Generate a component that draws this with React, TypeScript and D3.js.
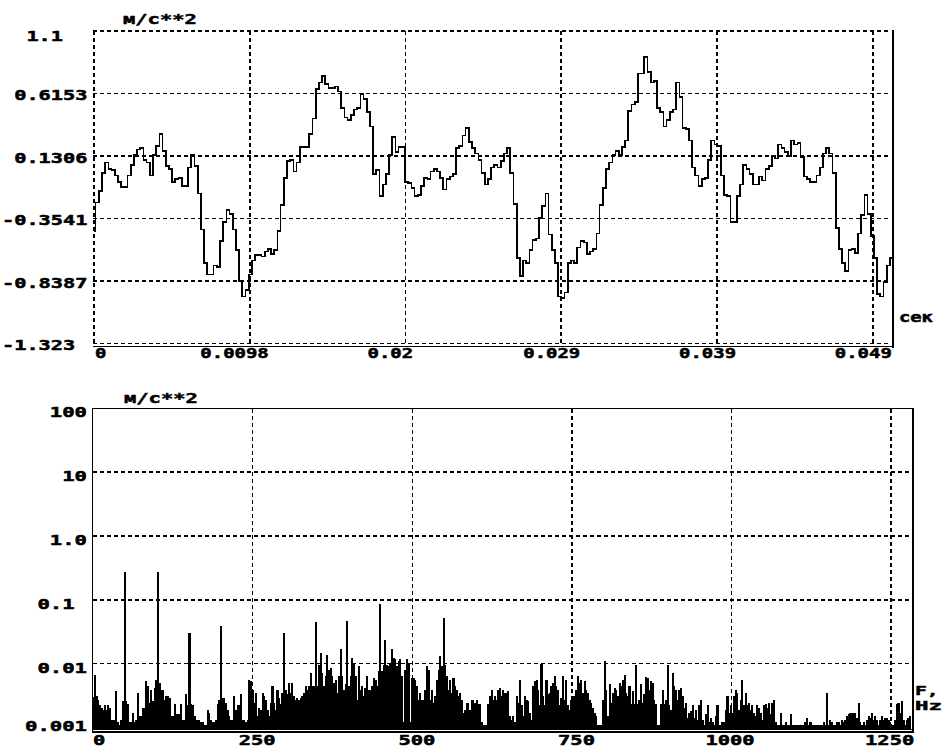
import React from 'react';
import * as d3 from 'd3';

// time signal, one value every 0.2 ms (м/с**2)
const signalStep = 0.0002;
const signal = [
  -0.45, -0.23, -0.14, 0.0, 0.08, 0.03, 0.02, -0.02, -0.07, -0.11,
  -0.11, -0.02, 0.06, 0.14, 0.18, 0.19, 0.1, 0.08, -0.02, 0.14,
  0.21, 0.3, 0.17, 0.05, 0.03, -0.07, -0.05, -0.04, -0.1, -0.1,
  0.04, 0.14, 0.05, -0.16, -0.44, -0.7, -0.79, -0.79, -0.72, -0.73,
  -0.53, -0.38, -0.29, -0.32, -0.44, -0.6, -0.84, -0.96, -0.91, -0.79,
  -0.68, -0.64, -0.64, -0.65, -0.61, -0.59, -0.63, -0.6, -0.45, -0.25,
  -0.04, 0.09, 0.1, 0.01, 0.08, 0.2, 0.2, 0.2, 0.3, 0.42,
  0.65, 0.7, 0.75, 0.69, 0.66, 0.66, 0.67, 0.63, 0.5, 0.43,
  0.41, 0.45, 0.49, 0.5, 0.61, 0.57, 0.47, 0.36, -0.01, 0.02,
  -0.18, -0.09, -0.01, 0.14, 0.28, 0.16, 0.2, 0.2, -0.07, -0.08,
  -0.12, -0.18, -0.17, -0.1, -0.04, -0.05, 0.01, 0.03, 0.01, -0.04,
  -0.13, -0.05, -0.03, -0.01, 0.19, 0.21, 0.29, 0.35, 0.24, 0.19,
  0.15, 0.1, 0.0, -0.09, -0.05, 0.04, 0.06, 0.04, 0.09, 0.15,
  0.19, 0.0, -0.24, -0.66, -0.8, -0.68, -0.7, -0.6, -0.52, -0.51,
  -0.35, -0.26, -0.16, -0.48, -0.6, -0.7, -0.96, -0.97, -0.93, -0.7,
  -0.68, -0.7, -0.58, -0.53, -0.54, -0.63, -0.61, -0.59, -0.47, -0.25,
  -0.12, 0.03, 0.08, 0.14, 0.17, 0.14, 0.2, 0.25, 0.48, 0.53,
  0.55, 0.77, 0.77, 0.9, 0.78, 0.7, 0.71, 0.5, 0.47, 0.36,
  0.41, 0.47, 0.49, 0.7, 0.59, 0.35, 0.34, 0.25, 0.04, -0.02,
  -0.1, -0.05, -0.04, 0.1, 0.25, 0.22, 0.21, -0.02, -0.17, -0.18,
  -0.38, -0.38, -0.18, -0.09, 0.06, 0.03, -0.01, -0.09, -0.09, -0.03,
  -0.06, 0.03, 0.05, 0.13, 0.11, 0.22, 0.19, 0.16, 0.13, 0.25,
  0.22, 0.23, 0.12, -0.03, -0.05, -0.07, -0.07, -0.02, 0.04, 0.15,
  0.19, 0.15, 0.0, -0.43, -0.59, -0.7, -0.76, -0.6, -0.59, -0.62,
  -0.47, -0.33, -0.17, -0.32, -0.49, -0.66, -0.94, -0.96, -0.85, -0.72,
  -0.66,
];
const timeTicks = [0, 100 / 10240, 200 / 10240, 300 / 10240, 400 / 10240, 500 / 10240];
const timeTickLabels = ['0', '0.0098', '0.02', '0.029', '0.039', '0.049'];
const accelTicks = [1.1, 0.6153, 0.1306, -0.3541, -0.8387, -1.323];
const accelTickLabels = ['  1.1', ' 0.6153', ' 0.1306', '-0.3541', '-0.8387', '-1.323'];

// amplitude spectrum, one bin every 2.6 Hz
const spectrumStep = 2.6;
const spectrum = [
  0.003, 0.0065, 0.0031, 0.0027, 0.0022, 0.002, 0.0019, 0.0022, 0.0019, 0.0022,
  0.002, 0.0013, 0.0013, 0.0013, 0.0037, 0.0012, 0.0011, 0.0013, 0.0026, 0.27,
  0.0026, 0.0023, 0.0012, 0.0012, 0.0017, 0.0012, 0.0013, 0.0035, 0.0015, 0.0015,
  0.002, 0.002, 0.0053, 0.0044, 0.0024, 0.0039, 0.0026, 0.0042, 0.0056, 0.27,
  0.005, 0.0039, 0.0039, 0.0027, 0.0031, 0.0031, 0.0029, 0.0015, 0.0015, 0.0023,
  0.0016, 0.0016, 0.0016, 0.0023, 0.0013, 0.0013, 0.0033, 0.0022, 0.03, 0.0023,
  0.0022, 0.0015, 0.0013, 0.0013, 0.0013, 0.0012, 0.0012, 0.0011, 0.0011, 0.0019,
  0.0017, 0.0013, 0.0012, 0.0012, 0.0013, 0.0023, 0.0027, 0.039, 0.0029, 0.0029,
  0.0024, 0.0019, 0.0015, 0.0013, 0.0013, 0.0031, 0.0019, 0.0022, 0.0022, 0.0033,
  0.0013, 0.0013, 0.0012, 0.0013, 0.0056, 0.0053, 0.0039, 0.0024, 0.0035, 0.0015,
  0.002, 0.0019, 0.0035, 0.0031, 0.0027, 0.0019, 0.0015, 0.0024, 0.0044, 0.0024,
  0.0019, 0.0039, 0.0029, 0.0023, 0.0035, 0.03, 0.0039, 0.0033, 0.005, 0.0035,
  0.005, 0.0031, 0.0027, 0.0029, 0.0027, 0.0029, 0.0031, 0.0035, 0.0044, 0.0039,
  0.0044, 0.0071, 0.0044, 0.0044, 0.044, 0.0044, 0.0095, 0.0147, 0.0071, 0.0044,
  0.0063, 0.0138, 0.008, 0.0085, 0.0063, 0.005, 0.0056, 0.0035, 0.0063, 0.0166,
  0.0063, 0.0039, 0.0047, 0.046, 0.0044, 0.0063, 0.0123, 0.01, 0.0063, 0.0027,
  0.009, 0.0039, 0.0044, 0.0031, 0.0042, 0.0063, 0.0039, 0.0039, 0.0044, 0.006,
  0.0056, 0.0044, 0.0076, 0.086, 0.0076, 0.0095, 0.023, 0.0095, 0.009, 0.01,
  0.0166, 0.0123, 0.0116, 0.009, 0.011, 0.0116, 0.0063, 0.0012, 0.008, 0.0116,
  0.01, 0.0012, 0.006, 0.006, 0.0056, 0.0044, 0.0027, 0.0035, 0.0027, 0.0027,
  0.0039, 0.009, 0.008, 0.0027, 0.0039, 0.0024, 0.0031, 0.0056, 0.008, 0.013,
  0.009, 0.052, 0.0095, 0.0063, 0.0039, 0.0056, 0.0035, 0.006, 0.0044, 0.0039,
  0.0031, 0.0035, 0.0027, 0.0017, 0.0019, 0.0024, 0.0024, 0.0019, 0.0027, 0.0027,
  0.0024, 0.0027, 0.0023, 0.0023, 0.0012, 0.0011, 0.0011, 0.0011, 0.0023, 0.0031,
  0.0039, 0.0027, 0.0031, 0.0027, 0.0039, 0.0042, 0.0031,
  0.0039, 0.0035, 0.0035, 0.0037, 0.0015, 0.0013, 0.0015, 0.0012, 0.0031, 0.0024,
  0.0056, 0.0022, 0.0015, 0.0031, 0.0027, 0.0026, 0.0017, 0.0013, 0.0044, 0.0053,
  0.0056, 0.0039, 0.0022, 0.01, 0.0031, 0.0022, 0.0056, 0.0033, 0.0035, 0.0044,
  0.005, 0.0063, 0.0044, 0.0039, 0.0022, 0.0029, 0.0063, 0.0027, 0.0056, 0.0022,
  0.0019, 0.0027, 0.0031, 0.0031, 0.0039, 0.0063, 0.005, 0.0056, 0.0035, 0.0053,
  0.0039, 0.0035, 0.0027, 0.0024, 0.002, 0.0017, 0.0015, 0.0011, 0.0011, 0.0011,
  0.0027, 0.011, 0.0039, 0.0015, 0.0047, 0.0024, 0.0035, 0.0042, 0.0039, 0.0031,
  0.005, 0.0044, 0.0056, 0.0067, 0.0035, 0.0031, 0.0044, 0.0023, 0.0037, 0.0023,
  0.0095, 0.0023, 0.0027, 0.0047, 0.0024, 0.0033, 0.0062, 0.006, 0.0039, 0.0053,
  0.005, 0.0027, 0.0023, 0.0011, 0.0011, 0.0023, 0.0039, 0.0023, 0.0027, 0.0095,
  0.0022, 0.0019, 0.0071, 0.0044, 0.0039, 0.0027, 0.0039, 0.0042, 0.0031, 0.002,
  0.0024, 0.0014, 0.0017, 0.0018, 0.0022, 0.0014, 0.0019, 0.0013, 0.0022, 0.0027,
  0.0013, 0.0011, 0.0016, 0.0022, 0.0012, 0.0014, 0.0012, 0.0011, 0.0015, 0.0022,
  0.0011, 0.0011, 0.0012, 0.0012, 0.0019, 0.0031, 0.0017, 0.0022, 0.0017, 0.0031,
  0.0039, 0.0035, 0.0019, 0.0027, 0.0056, 0.0022, 0.0035, 0.0022, 0.0024, 0.0019,
  0.0022, 0.0017, 0.0015, 0.0022, 0.002, 0.0017, 0.0013, 0.0022, 0.0023, 0.002,
  0.0024, 0.0016, 0.0024, 0.0027, 0.0012, 0.0011, 0.0011, 0.0017, 0.0011, 0.0011,
  0.0012, 0.0011, 0.0011, 0.0016, 0.0011, 0.0011, 0.0011, 0.0011, 0.0011, 0.0011,
  0.0011, 0.0011, 0.0012, 0.0014, 0.0011, 0.0012, 0.0011, 0.0011, 0.0011, 0.0011,
  0.0011, 0.0011, 0.0011, 0.0012, 0.0011, 0.0035, 0.0011, 0.0013, 0.0012, 0.0011,
  0.0011, 0.0012, 0.0012, 0.0011, 0.0013, 0.0012, 0.0013, 0.0015, 0.0016, 0.0017,
  0.0017, 0.0017, 0.0017, 0.0014, 0.0024, 0.0012, 0.0011, 0.0012, 0.0011, 0.0013,
  0.0015, 0.0014, 0.0017, 0.0013, 0.0015, 0.0013, 0.0011, 0.0013, 0.0015, 0.0013,
  0.0014, 0.0014, 0.0013, 0.0012, 0.0011, 0.0011, 0.0013, 0.0023, 0.0024, 0.0017,
  0.0026, 0.0013, 0.0011, 0.0013, 0.0014, 0.0015,
];
const freqTicks = [0, 250, 500, 750, 1000, 1250];
const freqTickLabels = ['0', '250', '500', '750', '1000', '1250'];
const ampTicks = [100, 10, 1, 0.1, 0.01, 0.001];
const ampTickLabels = ['  100', '   10', '  1.0', ' 0.1', ' 0.01', '0.001'];

const FONT = '"DejaVu Sans Mono", "Liberation Mono", monospace';
const DASH = '4 3';

type LabelProps = { x: number; y: number; text: string; cw: number; anchor?: 'start' | 'end'; size?: number };

// bitmap-like wide bold label: every char gets the same cell width
const Label = ({ x, y, text, cw, anchor = 'start', size = 14 }: LabelProps) => {
  const lead = text.length - text.trimStart().length;
  const t = text.trim();
  const len = t.length * cw;
  const x0 = anchor === 'end' ? x - len : x + lead * cw;
  return (
    <text x={x0} y={y} textLength={len} lengthAdjust="spacingAndGlyphs"
      fontFamily={FONT} fontWeight="bold" fontSize={size} fill="#000"
      stroke="#000" strokeWidth={0.5}>{t}</text>
  );
};

const App = () => {
  // top: time signal
  const tx = d3.scaleLinear().domain([0, 0.05]).range([94, 891.5]);
  const ty = d3.scaleLinear().domain([-1.323, 1.1]).range([343.3, 31]);
  const line = d3.line<number>()
    .x((d, i) => tx(i * signalStep))
    .y(d => ty(d))
    .curve(d3.curveStep);

  // bottom: spectrum
  const fx = d3.scaleLinear().domain([0, 1284]).range([93, 913]);
  const fy = d3.scaleLog().domain([0.001, 100]).range([727.3, 408.3]);
  const bw = fx(spectrumStep) - fx(0);
  const base = 729;

  return (
    <svg width={950} height={755} style={{ position: 'absolute', left: 0, top: 0, background: '#fff' }}>
      {/* ---- top panel ---- */}
      <g stroke="#000" strokeWidth={1.6} strokeDasharray={DASH} shapeRendering="crispEdges">
        {accelTicks.map(v => (
          <line key={'h' + v} x1={93} x2={891} y1={ty(v)} y2={ty(v)} />
        ))}
        {timeTicks.map(t => (
          <line key={'v' + t} x1={tx(t)} x2={tx(t)} y1={31} y2={343.3} />
        ))}
      </g>
      <line x1={892.5} x2={892.5} y1={30} y2={347.5} stroke="#000" strokeWidth={2} shapeRendering="crispEdges" />
      <line x1={93} x2={893.5} y1={346.5} y2={346.5} stroke="#000" strokeWidth={1.5} shapeRendering="crispEdges" />
      <path d={line(signal) || ''} fill="none" stroke="#000" strokeWidth={1.7} shapeRendering="crispEdges" />

      {accelTicks.map((v, i) => (
        <Label key={'yl' + v} x={2} y={Math.max(ty(v) + 7, 41)} text={accelTickLabels[i]} cw={12.2} />
      ))}
      {timeTicks.map((t, i) => {
        const lab = timeTickLabels[i];
        if (i === 0) return <Label key={'xl' + i} x={tx(t) + 1} y={358} text={lab} cw={11.4} />;
        const end = tx(t) + 19 - Math.max(0, 5 - lab.length) * 11.4;
        return <Label key={'xl' + i} x={end} y={358} text={lab} cw={11.4} anchor="end" />;
      })}
      <Label x={123} y={24} text="м/с**2" cw={12.3} />
      <Label x={899} y={322} text="сек" cw={11.3} />

      {/* ---- bottom panel ---- */}
      <g stroke="#000" strokeWidth={1.6} strokeDasharray={DASH} shapeRendering="crispEdges">
        {ampTicks.filter(v => v < 100).map(v => (
          <line key={'ah' + v} x1={93} x2={912} y1={fy(v)} y2={fy(v)} />
        ))}
        {freqTicks.filter(f => f > 0).map(f => (
          <line key={'fv' + f} x1={fx(f)} x2={fx(f)} y1={409} y2={727} />
        ))}
      </g>
      <g fill="#000" shapeRendering="crispEdges">
        {spectrum.map((v, i) => (
          <rect key={'b' + i} x={fx(i * spectrumStep) - bw / 2} width={bw + 0.4}
            y={fy(v)} height={Math.max(0, base - fy(v))} />
        ))}
      </g>
      <g stroke="#000" fill="none" shapeRendering="crispEdges">
        <line x1={92} x2={913.5} y1={408.5} y2={408.5} strokeWidth={1.5} />
        <line x1={92.5} x2={92.5} y1={408} y2={732.5} strokeWidth={1.5} />
        <line x1={913} x2={913} y1={408} y2={732.5} strokeWidth={1.5} />
        <line x1={92} x2={913.5} y1={729.5} y2={729.5} strokeWidth={1.2} />
        <line x1={92} x2={913.5} y1={732} y2={732} strokeWidth={1.2} />
      </g>

      {ampTicks.map((v, i) => (
        <Label key={'al' + v} x={25} y={Math.min(fy(v) + 9, 730.5)} text={ampTickLabels[i]} cw={12.4} />
      ))}
      {freqTicks.map((f, i) => (
        i === 0
          ? <Label key={'fl' + f} x={fx(f)} y={745} text={freqTickLabels[i]} cw={12.3} />
          : <Label key={'fl' + f} x={fx(f) + 23} y={745} text={freqTickLabels[i]} cw={12.3} anchor="end" />
      ))}
      <Label x={124} y={403} text="м/с**2" cw={12.3} />
      <Label x={915} y={695} text="F," cw={11.8} size={13} />
      <Label x={915} y={710} text="Hz" cw={13.5} size={13} />
    </svg>
  );
};

export default App;
